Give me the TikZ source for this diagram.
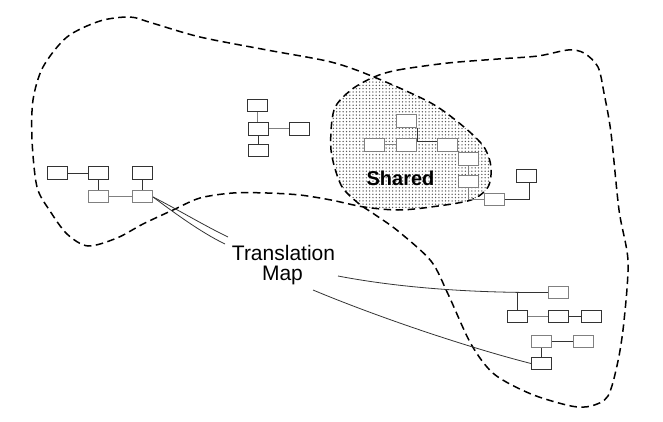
\documentclass[tikz,border=0pt]{standalone}
\usepackage{fontspec}
\setmainfont{Liberation Sans}
\usetikzlibrary{patterns.meta}
\begin{document}
\begin{tikzpicture}[x=1pt,y=-1pt,
  dbox/.style={draw=black!80,line width=1pt,fill=white,minimum width=20pt,minimum height=12.5pt,inner sep=0pt},
  lbox/.style={draw=black!50,line width=1pt,fill=white,minimum width=20pt,minimum height=12.5pt,inner sep=0pt},
  dlink/.style={draw=black!80,line width=1pt},
  llink/.style={draw=black!50,line width=1pt},
  region/.style={draw=black,line width=1.5pt,dash pattern=on 7.5pt off 4.5pt},
  tmap/.style={draw=black!80,line width=0.8pt},
  lbl/.style={inner sep=0pt,font=\fontsize{21}{21}\selectfont}]
\useasboundingbox (0,0) rectangle (663,422);
\def\leftreg{(100,21) (130,17) (152,23) (200,37) (267,50) (331,62) (374,77) (431,103) (464,127) (484,147) (491,167) (488,187) (471,200) (431,207) (398,210) (364,207) (331,200) (300,195) (267,193) (233,193) (200,198) (173,210) (143,224) (117,238) (88,246) (67,234) (50,211) (37,187) (32,140) (33,100) (43,67) (67,37)}
\def\rightreg{(374,77) (398,70) (448,63) (498,59) (538,56) (568,50) (584,53) (598,67) (604,93) (611,133) (619,210) (628,261) (624,321) (618,361) (608,396) (591,406) (571,406) (531,394) (494,374) (471,344) (448,294) (431,261) (398,231) (374,214) (358,203) (341,185) (331,150) (334,110) (351,90)}
% shared area
\begin{scope}
  \clip plot[smooth cycle] coordinates {\leftreg};
  \fill[pattern={Dots[distance=3.3pt,radius=0.75pt]},pattern color=black!65] plot[smooth cycle] coordinates {\rightreg};
\end{scope}
\draw[region] plot[smooth cycle] coordinates {\leftreg};
\draw[region] plot[smooth cycle] coordinates {\rightreg};
% boxes: top middle
\node[dbox] (A1) at (257,105.5) {};
\node[dbox] (A2) at (258.5,129) {};
\node[dbox] (A3) at (299,129) {};
\node[dbox] (A4) at (258.5,150.5) {};
% left
\node[dbox] (L1) at (57,173) {};
\node[dbox] (L2) at (98,173) {};
\node[dbox] (L3) at (142.5,173) {};
\node[lbox] (L4) at (98,196.5) {};
\node[lbox] (L5) at (142.5,196.5) {};
% shared
\node[lbox] (S1) at (406.5,121) {};
\node[lbox] (S2) at (374,145) {};
\node[lbox] (S3) at (406.5,145) {};
\node[lbox] (S4) at (447.5,145) {};
\node[lbox] (S5) at (468.5,159) {};
\node[lbox] (S6) at (468.5,181.5) {};
\node[lbox] (S7) at (494,199.5) {};
\node[dbox] (S8) at (526.5,176) {};
% right bottom
\node[lbox] (R1) at (558,292.5) {};
\node[dbox] (R2) at (517,316.5) {};
\node[dbox] (R3) at (558,316.5) {};
\node[dbox] (R4) at (591,316.5) {};
\node[lbox] (R5) at (541.5,341.5) {};
\node[lbox] (R6) at (583,341.5) {};
\node[dbox] (R7) at (541.5,363.5) {};
% links
\draw[llink] (A1.south) -- (A1.south |- A2.north);
\draw[llink] (A2) -- (A3);
\draw[dlink] (A2) -- (A4);
\draw[dlink] (L1) -- (L2);
\draw[dlink] (L2) -- (L4);
\draw[dlink] (L3) -- (L5);
\draw[llink] (L4) -- (L5);
\draw[dlink] (S1.south east) -- ([yshift=3pt]S1.south east |- S4.west) -- ([yshift=3pt]S4.west);
\draw[llink] (S2) -- (S3);
\draw[llink] (S5) -- (S6);
\draw[llink] (S6.south) |- (S7.west);
\draw[dlink] (S7.east) -| ([xshift=3pt]S8.south);
\draw[dlink] (R1.west) -| (R2.north);
\draw[llink] (R2) -- (R3);
\draw[dlink] (R3) -- (R4);
\draw[dlink] (R5) -- (R6);
\draw[dlink] (R5) -- (R7);
% text
\node[lbl,anchor=base] (t1) at (283.5,260) {Translation};
\node[lbl,anchor=base] (t2) at (282.5,280) {Map};
\node[inner sep=0pt,anchor=base,font=\fontsize{20}{20}\selectfont\bfseries] (sh) at (400.5,185) {Shared};
% translation map connectors
\coordinate (ms) at (153,197);
\coordinate (ma) at (228,237);
\coordinate (mb) at (225,244);
\coordinate (mc) at (338,276);
\coordinate (md) at (313,290);
\draw[tmap] (ms) .. controls (175,208) and (205,226) .. (ma);
\draw[tmap] (ms) .. controls (172,211) and (200,232) .. (mb);
\draw[tmap] (mc) .. controls (390,286) and (460,293) .. (R1.west);
\draw[tmap] (md) .. controls (380,318) and (470,348) .. (R7.west);
\end{tikzpicture}
\end{document}
